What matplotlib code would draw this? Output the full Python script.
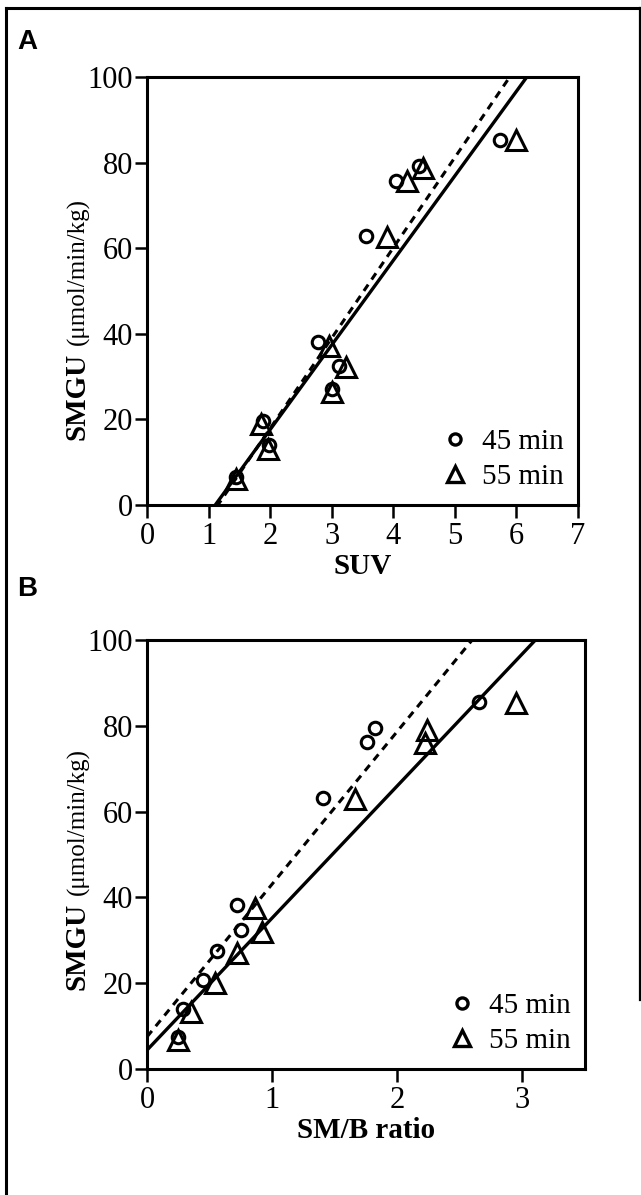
"""SMGU vs SUV and SM/B ratio, 45 and 55 min scans (two panels)."""

import matplotlib
matplotlib.use("Agg")
import matplotlib.pyplot as plt
from matplotlib.lines import Line2D
import numpy as np

# panel A: SUV
suv_45 = [1.45, 1.89, 1.98, 2.77, 3.00, 3.12, 3.55, 4.05, 4.41, 5.73]
smgu_a_45 = [6.6, 19.7, 14.0, 38.0, 27.0, 32.5, 62.8, 75.6, 79.1, 85.3]
suv_55 = [1.45, 1.85, 1.96, 2.96, 3.00, 3.23, 3.90, 4.22, 4.49, 6.00]
smgu_a_55 = [6.0, 19.0, 13.0, 37.1, 26.5, 32.2, 62.5, 75.6, 78.8, 85.3]

# panel B: SM/B ratio
ratio_45 = [0.25, 0.29, 0.45, 0.56, 0.75, 0.72, 1.41, 1.76, 1.82, 2.65]
smgu_b_45 = [7.5, 13.9, 20.7, 27.6, 32.4, 38.2, 63.2, 76.3, 79.6, 85.6]
ratio_55 = [0.25, 0.35, 0.54, 0.72, 0.92, 0.86, 1.66, 2.22, 2.24, 2.95]
smgu_b_55 = [6.8, 13.4, 20.0, 27.0, 32.0, 37.5, 62.9, 75.9, 79.0, 85.2]

# regression lines (slope, intercept)
fit_a_45 = (21.1, -24.3)
fit_a_55 = (19.76, -21.9)
fit_b_45 = (35.6, 7.5)
fit_b_55 = (30.8, 4.4)

plt.rcParams["font.family"] = ["Liberation Serif", "DejaVu Serif"]

W, H = 641, 1195
fig = plt.figure(figsize=(W / 100, H / 100), dpi=100)


def px(x0, y0, x1, y1):
    return [x0 / W, 1 - y1 / H, (x1 - x0) / W, (y1 - y0) / H]


def ylabel(x, y):
    # bold variable name then units, reading bottom to top
    fig.text(x / W, 1 - y / H, "SMGU", rotation=90, rotation_mode="anchor",
             ha="left", va="baseline", fontsize=21, fontweight="bold")
    fig.text(x / W, 1 - (y - 95) / H, "(μmol/min/kg)", rotation=90,
             rotation_mode="anchor", ha="left", va="baseline", fontsize=18)


def panel(ax, x45, y45, x55, y55, fit45, fit55, xmax, xticks, xlabel):
    ax.set_xlim(0, xmax)
    ax.set_ylim(0, 100)
    xs = np.array([0, xmax])
    ax.plot(xs, fit55[0] * xs + fit55[1], color="black", lw=2.4,
            solid_capstyle="butt")
    ax.plot(xs, fit45[0] * xs + fit45[1], color="black", lw=2.2,
            dashes=(2.5, 2.0))
    ax.plot(x55, y55, ls="none", marker="^", ms=14, mfc="none",
            mec="black", mew=2.2)
    ax.plot(x45, y45, ls="none", marker="o", ms=9, mfc="none",
            mec="black", mew=2.2)
    ax.set_xticks(xticks)
    ax.set_yticks([0, 20, 40, 60, 80, 100])
    ax.tick_params(direction="out", length=9, width=1.8, labelsize=22)
    ax.tick_params(axis="x", pad=3)
    ax.tick_params(axis="y", pad=1)
    for s in ax.spines.values():
        s.set_linewidth(2.2)
    ax.set_xlabel(xlabel, fontsize=21, fontweight="bold", labelpad=2)
    handles = [
        Line2D([0], [0], ls="none", marker="o", ms=8, mfc="none",
               mec="black", mew=2.4),
        Line2D([0], [0], ls="none", marker="^", ms=11, mfc="none",
               mec="black", mew=2.4),
    ]
    ax.legend(handles, ["45 min", "55 min"], loc="lower right", frameon=False,
              fontsize=21, handletextpad=0.4, labelspacing=0.3,
              borderaxespad=0.1, handlelength=1.0)


ax_a = fig.add_axes(px(147, 77, 578, 505))
panel(ax_a, suv_45, smgu_a_45, suv_55, smgu_a_55, fit_a_45, fit_a_55,
      7, range(0, 8), "SUV")
ylabel(84, 440)
ax_b = fig.add_axes(px(147, 640, 585, 1069))
panel(ax_b, ratio_45, smgu_b_45, ratio_55, smgu_b_55, fit_b_45, fit_b_55,
      3.5, [0, 1, 2, 3], "SM/B ratio")
ylabel(84, 990)

fig.text(17 / W, 1 - 49 / H, "A", family="Liberation Sans", fontweight="bold",
         fontsize=20)
fig.text(17 / W, 1 - 596 / H, "B", family="Liberation Sans", fontweight="bold",
         fontsize=20)

# outer frame: left, top and right edges
fig.add_artist(Line2D([6 / W, 6 / W], [0, 1 - 8 / H], color="black", lw=2.2))
fig.add_artist(Line2D([6 / W, 639.5 / W], [1 - 8 / H, 1 - 8 / H],
                      color="black", lw=2.2))
fig.add_artist(Line2D([639.5 / W, 639.5 / W], [1 - 8 / H, 1 - 1000 / H],
                      color="black", lw=1.6))

fig.savefig("out.png", dpi=100)
